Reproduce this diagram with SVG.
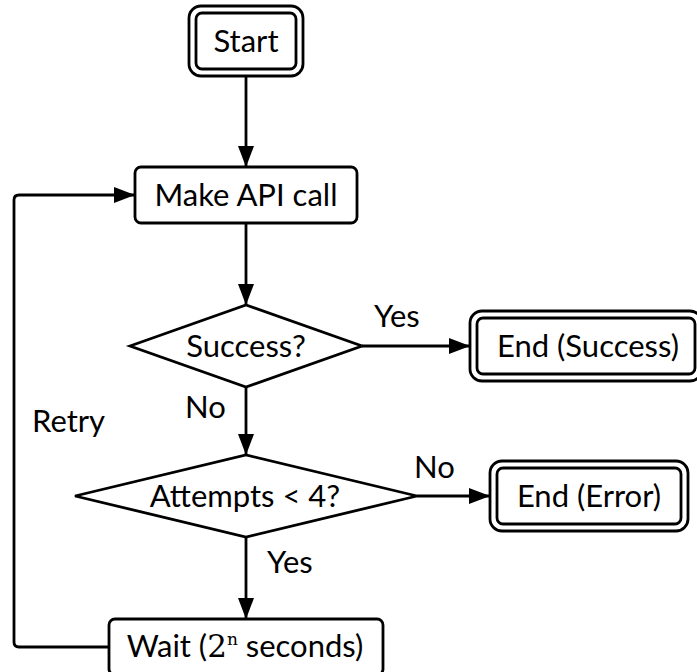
<svg xmlns="http://www.w3.org/2000/svg" width="697" height="672" viewBox="0 0 697 672">
  <defs>
    <marker id="arrow" markerUnits="userSpaceOnUse" markerWidth="22" markerHeight="18" refX="21" refY="8" orient="auto">
      <path d="M0,0 L21,8 L0,16 Z" fill="#000"/>
    </marker>
    <style>
      .shape { fill: #fff; stroke: #000; stroke-width: 2.8; }
      .edge { fill: none; stroke: #000; stroke-width: 2.8; stroke-linejoin: round; marker-end: url(#arrow); }
      text { font-family: Lato, "Open Sans", "Liberation Sans", sans-serif; font-size: 31px; fill: #000; }
      .label { text-anchor: middle; }
      .math { font-family: "DejaVu Serif", "Liberation Serif", serif; }
    </style>
  </defs>

  <!-- connectors and their labels -->
  <g id="connectors">
    <path class="edge" d="M246,76 L246,167"/>
    <path class="edge" d="M246,223 L246,305"/>
    <path class="edge" d="M362,346 L470,346"/>
    <path class="edge" d="M246,387 L246,455"/>
    <path class="edge" d="M417,496 L490,496"/>
    <path class="edge" d="M246,537 L246,619"/>
    <path class="edge" d="M109,647 L19,647 Q14,647 14,642 L14,200 Q14,195 19,195 L135,195"/>
    <text x="374" y="327">Yes</text>
    <text x="185" y="418">No</text>
    <text x="414" y="478">No</text>
    <text x="267" y="573">Yes</text>
    <text x="32" y="432">Retry</text>
  </g>

  <!-- start terminal -->
  <g id="start">
    <rect class="shape" x="189" y="6" width="114" height="70" rx="12"/>
    <rect class="shape" x="196" y="13" width="100" height="56" rx="6"/>
    <text class="label" x="246" y="52">Start</text>
  </g>

  <!-- API call -->
  <g id="make-call">
    <rect class="shape" x="135" y="167" width="222" height="56" rx="6"/>
    <text class="label" x="246" y="206">Make API call</text>
  </g>

  <!-- success check -->
  <g id="success">
    <polygon class="shape" points="130,346 246,305 362,346 246,387"/>
    <text class="label" x="246" y="357">Success?</text>
  </g>

  <!-- success terminal -->
  <g id="end-success">
    <rect class="shape" x="470" y="311" width="232" height="70" rx="12"/>
    <rect class="shape" x="477" y="318" width="218" height="56" rx="6"/>
    <text class="label" x="588" y="357">End (Success)</text>
  </g>

  <!-- attempt limit check -->
  <g id="attempts">
    <polygon class="shape" points="75,496 246,455 417,496 246,537"/>
    <text class="label" x="245" y="507">Attempts &lt; 4?</text>
  </g>

  <!-- error terminal -->
  <g id="end-error">
    <rect class="shape" x="490" y="461" width="198" height="70" rx="12"/>
    <rect class="shape" x="497" y="468" width="184" height="56" rx="6"/>
    <text class="label" x="589" y="507">End (Error)</text>
  </g>

  <!-- backoff wait -->
  <g id="wait">
    <rect class="shape" x="109" y="619" width="274" height="56" rx="6"/>
    <text class="label" x="245" y="657">Wait (<tspan class="math">2</tspan><tspan class="math" font-size="17" dy="-12">n</tspan><tspan dy="12"> seconds)</tspan></text>
  </g>
</svg>
